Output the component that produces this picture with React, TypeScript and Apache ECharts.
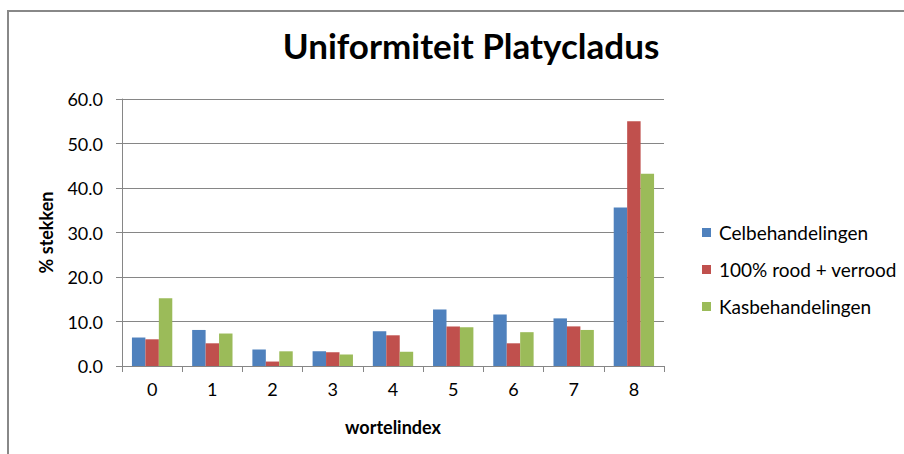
import React, { useEffect, useRef } from "react";
import * as echarts from "echarts";

const categories = ["0", "1", "2", "3", "4", "5", "6", "7", "8"];
const celbehandelingen = [6.4, 8.1, 3.7, 3.3, 7.8, 12.7, 11.6, 10.7, 35.6];
const roodVerrood = [6.0, 5.1, 1.0, 3.1, 6.9, 8.9, 5.1, 8.9, 55.0];
const kasbehandelingen = [15.2, 7.3, 3.3, 2.6, 3.2, 8.7, 7.6, 8.1, 43.2];
const seriesNames = ["Celbehandelingen", "100% rood + verrood", "Kasbehandelingen"];
const colors = ["#4F81BD", "#C0504D", "#9BBB59"];

const FONT = "Lato, 'Open Sans', sans-serif";

export default function App() {
  const ref = useRef<HTMLDivElement>(null);
  useEffect(() => {
    if (!ref.current) return;
    const chart = echarts.init(ref.current, undefined, { renderer: "svg" });
    const data = [celbehandelingen, roodVerrood, kasbehandelingen];
    chart.setOption({
      animation: false,
      backgroundColor: "#ffffff",
      title: {
        text: "Uniformiteit Platycladus",
        left: 466,
        textAlign: "center",
        top: 22,
        textStyle: { fontFamily: FONT, fontSize: 35, fontWeight: "bold", color: "#000" },
      },
      graphic: [
        {
          type: "polyline",
          shape: { points: [[8, 454], [8, 11], [904, 11]] },
          style: { stroke: "#888888", lineWidth: 2, fill: "none" },
          silent: true,
        },
      ],
      legend: {
        orient: "vertical",
        left: 697,
        top: 217,
        itemWidth: 9,
        itemHeight: 9,
        itemGap: 16,
        icon: "rect",
        textStyle: { fontFamily: FONT, fontSize: 19, color: "#000", lineHeight: 21, padding: [0, 0, 0, 3] },
        data: seriesNames,
      },
      grid: { left: 122, right: 240, top: 99, bottom: 88, containLabel: false },
      xAxis: {
        type: "category",
        data: categories,
        name: "wortelindex",
        nameLocation: "middle",
        nameGap: 52,
        nameTextStyle: { fontFamily: FONT, fontSize: 18, fontWeight: "bold", color: "#000" },
        axisLine: { lineStyle: { color: "#868686", width: 1 } },
        axisTick: { show: true, length: 6, lineStyle: { color: "#868686" } },
        axisLabel: { fontFamily: FONT, fontSize: 18, color: "#000", margin: 14 },
      },
      yAxis: {
        type: "value",
        min: 0,
        max: 60,
        interval: 10,
        name: "% stekken",
        nameLocation: "middle",
        nameGap: 67,
        nameRotate: 90,
        nameTextStyle: { fontFamily: FONT, fontSize: 18, fontWeight: "bold", color: "#000" },
        axisLine: { show: true, lineStyle: { color: "#868686", width: 1 } },
        axisTick: { show: true, length: 6, lineStyle: { color: "#868686" } },
        axisLabel: {
          fontFamily: FONT,
          fontSize: 18,
          color: "#000",
          margin: 19,
          formatter: (v: number) => v.toFixed(1),
        },
        splitLine: { show: true, lineStyle: { color: "#868686", width: 1 } },
      },
      series: seriesNames.map((name, i) => ({
        name,
        type: "bar",
        data: data[i],
        itemStyle: { color: colors[i] },
        barGap: "0%",
        barCategoryGap: "33%",
      })),
    });
    return () => chart.dispose();
  }, []);
  return <div ref={ref} style={{ width: 904, height: 454, position: "absolute", left: 0, top: 0 }} />;
}
